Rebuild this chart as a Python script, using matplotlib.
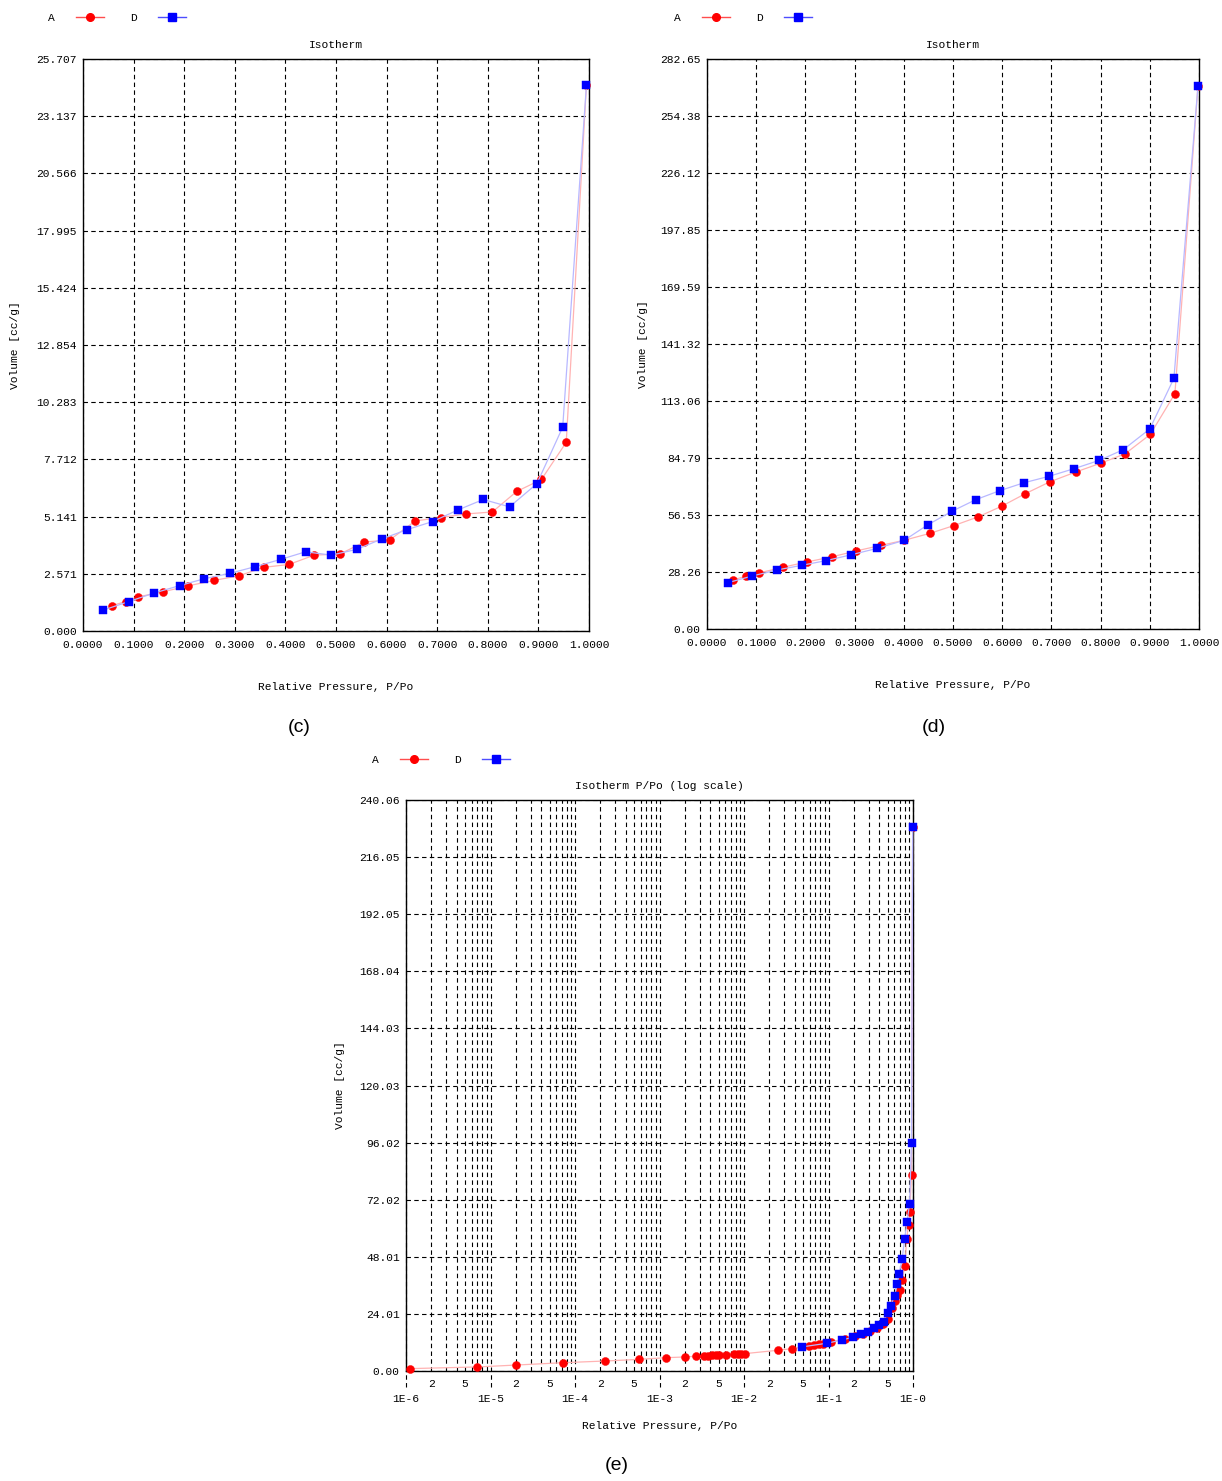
import numpy as np
import matplotlib
matplotlib.use("Agg")
import matplotlib.pyplot as plt
from matplotlib.lines import Line2D
from matplotlib.ticker import FixedLocator, LogLocator, FuncFormatter

# ---------------- data ----------------
# panel (c)
c_A_x = [0.057, 0.084, 0.108, 0.158, 0.208, 0.258, 0.308, 0.357, 0.407, 0.457, 0.508,
         0.556, 0.606, 0.657, 0.707, 0.757, 0.809, 0.857, 0.906, 0.955, 0.995]
c_A_y = [1.14, 1.32, 1.53, 1.76, 2.03, 2.27, 2.48, 2.86, 2.99, 3.41, 3.46,
         4.00, 4.09, 4.95, 5.10, 5.26, 5.35, 6.27, 6.81, 8.48, 24.55]
c_D_x = [0.039, 0.090, 0.141, 0.191, 0.240, 0.290, 0.340, 0.391, 0.440, 0.491,
         0.541, 0.591, 0.641, 0.691, 0.741, 0.791, 0.843, 0.897, 0.948, 0.995]
c_D_y = [0.93, 1.32, 1.71, 2.04, 2.35, 2.59, 2.89, 3.22, 3.56, 3.41,
         3.67, 4.14, 4.56, 4.92, 5.44, 5.91, 5.58, 6.62, 9.16, 24.55]
c_yticklabels = ["0.000", "2.571", "5.141", "7.712", "10.283", "12.854",
                 "15.424", "17.995", "20.566", "23.137", "25.707"]
c_ymax = 25.707

# panel (d)
d_A_x = [0.053, 0.080, 0.106, 0.154, 0.204, 0.254, 0.303, 0.354, 0.401, 0.454, 0.502,
         0.551, 0.599, 0.647, 0.697, 0.749, 0.801, 0.850, 0.901, 0.951, 0.998]
d_A_y = [24.3, 26.3, 27.8, 30.6, 33.3, 35.8, 38.7, 41.5, 44.0, 47.5, 51.3,
         55.6, 60.9, 67.1, 73.0, 77.8, 82.3, 86.9, 96.5, 116.7, 269.5]
d_D_x = [0.043, 0.092, 0.143, 0.193, 0.242, 0.293, 0.346, 0.401, 0.449, 0.498,
         0.546, 0.595, 0.644, 0.695, 0.746, 0.797, 0.846, 0.900, 0.949, 0.998]
d_D_y = [23.0, 26.3, 29.3, 31.6, 33.9, 36.8, 40.0, 44.0, 51.7, 58.4,
         64.1, 68.6, 72.5, 75.7, 79.5, 83.6, 88.9, 99.2, 124.3, 269.5]
d_yticklabels = ["0.00", "28.26", "56.53", "84.79", "113.06", "141.32",
                 "169.59", "197.85", "226.12", "254.38", "282.65"]
d_ymax = 282.65

# panel (e)
e_A_x = [1.11e-6, 7.0e-6, 2.0e-5, 7.3e-5, 2.28e-4, 5.75e-4, 1.2e-3, 2.0e-3, 2.7e-3,
         3.33e-3, 3.76e-3, 4.2e-3, 4.68e-3, 5.0e-3, 6.2e-3, 7.6e-3, 8.4e-3, 9.3e-3,
         1.02e-2, 2.5e-2, 3.74e-2, 5.9e-2, 6.7e-2, 7.7e-2, 8.7e-2, 0.106,
         0.156, 0.205, 0.255, 0.31, 0.37, 0.44, 0.505, 0.57, 0.61, 0.655,
         0.705, 0.74, 0.805, 0.84, 0.885, 0.915, 0.96, 0.99]
e_A_y = [1.0, 1.7, 2.5, 3.5, 4.2, 4.9, 5.6, 5.9, 6.2,
         6.4, 6.5, 6.6, 6.7, 6.8, 6.9, 7.1, 7.2, 7.2,
         7.3, 8.7, 9.4, 10.5, 10.9, 11.2, 11.5, 12.2,
         13.5, 14.6, 15.6, 16.8, 18.0, 19.7, 22.0, 26.5, 29.6, 32.0,
         34.0, 38.3, 44.2, 55.7, 61.2, 66.8, 82.2, 228.7]
e_D_x = [0.048, 0.097, 0.146, 0.195, 0.243, 0.294, 0.347, 0.40, 0.45, 0.50,
         0.547, 0.605, 0.645, 0.686, 0.745, 0.795, 0.847, 0.91, 0.96, 0.99]
e_D_y = [10.1, 11.7, 13.1, 14.2, 15.5, 16.4, 18.0, 19.4, 20.8, 24.4,
         27.5, 31.6, 36.5, 40.9, 47.2, 55.6, 62.5, 70.1, 95.8, 228.7]
e_yticklabels = ["0.00", "24.01", "48.01", "72.02", "96.02", "120.03",
                 "144.03", "168.04", "192.05", "216.05", "240.06"]
e_ymax = 240.06
e_decades = [1e-6, 1e-5, 1e-4, 1e-3, 1e-2, 1e-1, 1e0]
e_decade_labels = ["1E-6", "1E-5", "1E-4", "1E-3", "1E-2", "1E-1", "1E-0"]

lin_xticks = [0.0, 0.1, 0.2, 0.3, 0.4, 0.5, 0.6, 0.7, 0.8, 0.9, 1.0]
lin_xticklabels = ["0.0000", "0.1000", "0.2000", "0.3000", "0.4000", "0.5000",
                   "0.6000", "0.7000", "0.8000", "0.9000", "1.0000"]

series_names = ["A", "D"]

# ---------------- style ----------------
MONO = "Liberation Mono"
FS = 8.1
RED = "#ff0000"
BLUE = "#0000ff"
RED_LINE = "#ffb3b3"
BLUE_LINE = "#b8b8ff"
DASH = (0, (4, 3))

W, H = 1222, 1481
fig = plt.figure(figsize=(W / 100, H / 100), dpi=100)
plt.rcParams["font.family"] = [MONO, "DejaVu Sans"]


def px_axes(left, top, right, bottom):
    return fig.add_axes([left / W, 1 - bottom / H, (right - left) / W, (bottom - top) / H])


def style_axes(ax, title, ymax, yticklabels, h_px, w_px, ylab_off):
    ax.set_ylim(0, ymax)
    ax.set_yticks(np.linspace(0, ymax, len(yticklabels)))
    ax.set_yticklabels(yticklabels, fontsize=FS)
    ax.tick_params(axis="y", length=0, pad=4.5)
    for s in ax.spines.values():
        s.set_color("black")
        s.set_linewidth(1.0)
    ax.grid(True, which="major", axis="y", color="black", linestyle=DASH, linewidth=0.8)
    ax.text(0.5, 1 + 14 / h_px, title, transform=ax.transAxes, ha="center", va="center",
            fontsize=FS)
    ax.set_ylabel("Volume [cc/g]", fontsize=FS)
    ax.yaxis.set_label_coords(-ylab_off / w_px, 0.5)
    ax.set_xlabel("Relative Pressure, P/Po", fontsize=FS)
    ax.xaxis.set_label_coords(0.5, -51 / h_px)


def plot_series(ax, ax_, ay, dx, dy):
    ax.plot(ax_, ay, color=RED_LINE, lw=0.9, marker="o", ms=5.8, mfc=RED, mec=RED,
            mew=0.3, clip_on=False, zorder=3)
    ax.plot(dx, dy, color=BLUE_LINE, lw=0.9, marker="s", ms=6.0, mfc=BLUE, mec=BLUE,
            mew=0.3, clip_on=False, zorder=4)


def legend(ax, x_px, y_px):
    handles = [Line2D([], [], color="#ff4d4d", lw=1.0, marker="o", ms=5.5, mfc=RED, mec=RED),
               Line2D([], [], color="#4d4dff", lw=1.0, marker="s", ms=5.5, mfc=BLUE, mec=BLUE)]
    ax.legend(handles, series_names, loc="center left",
              bbox_to_anchor=(x_px / W, 1 - y_px / H), bbox_transform=fig.transFigure,
              ncol=2, frameon=False, markerfirst=False, fontsize=FS,
              handlelength=2.5, handletextpad=1.9, columnspacing=2.3,
              borderpad=0, borderaxespad=0, numpoints=1)


def linear_x(ax):
    ax.set_xlim(0, 1.0)
    ax.set_xticks(lin_xticks)
    ax.set_xticklabels(lin_xticklabels, fontsize=FS)
    ax.tick_params(axis="x", length=0, pad=6.5)
    ax.grid(True, which="major", axis="x", color="black", linestyle=DASH, linewidth=0.8)


# ---- panel (c)
axc = px_axes(83, 59, 589, 631)
style_axes(axc, "Isotherm", c_ymax, c_yticklabels, 572, 506, 63)
linear_x(axc)
plot_series(axc, c_A_x, c_A_y, c_D_x, c_D_y)
legend(axc, 48, 18)
fig.text(299 / W, 1 - 728 / H, "(c)", family="Liberation Sans", fontsize=14,
         ha="center", va="center")

# ---- panel (d)
axd = px_axes(707, 59, 1199, 629)
style_axes(axd, "Isotherm", d_ymax, d_yticklabels, 570, 492, 59)
linear_x(axd)
plot_series(axd, d_A_x, d_A_y, d_D_x, d_D_y)
legend(axd, 674, 18)
fig.text(934 / W, 1 - 728 / H, "(d)", family="Liberation Sans", fontsize=14,
         ha="center", va="center")

# ---- panel (e)
axe = px_axes(406, 800, 913, 1371)
style_axes(axe, "Isotherm P/Po (log scale)", e_ymax, e_yticklabels, 571, 507, 61)
axe.xaxis.set_label_coords(0.5, -50 / 571)
axe.set_xscale("log")
axe.set_xlim(e_decades[0], e_decades[-1])
axe.xaxis.set_major_locator(FixedLocator(e_decades))
axe.set_xticklabels(e_decade_labels, fontsize=FS)
axe.xaxis.set_minor_locator(LogLocator(base=10, subs=[2, 3, 4, 5, 6, 7, 8, 9], numticks=50))


def minor_fmt(v, pos):
    m = v / 10 ** np.floor(np.log10(v) + 1e-9)
    if abs(m - 2) < 1e-3:
        return "2"
    if abs(m - 5) < 1e-3:
        return "5"
    return ""


axe.xaxis.set_minor_formatter(FuncFormatter(minor_fmt))
axe.tick_params(axis="x", which="major", length=0, pad=16.5, labelsize=FS)
axe.tick_params(axis="x", which="minor", length=0, pad=6.0, labelsize=FS)
axe.grid(True, which="minor", axis="x", color="black", linestyle=DASH, linewidth=0.8)
for d in e_decades:
    axe.axvline(d, ymin=-0.028, ymax=1, color="black", linestyle=DASH, linewidth=0.8,
                clip_on=False, zorder=1)
plot_series(axe, e_A_x, e_A_y, e_D_x, e_D_y)
legend(axe, 372, 760)
fig.text(617 / W, 1 - 1466 / H, "(e)", family="Liberation Sans", fontsize=14,
         ha="center", va="center")

fig.savefig("out.png", dpi=100)
